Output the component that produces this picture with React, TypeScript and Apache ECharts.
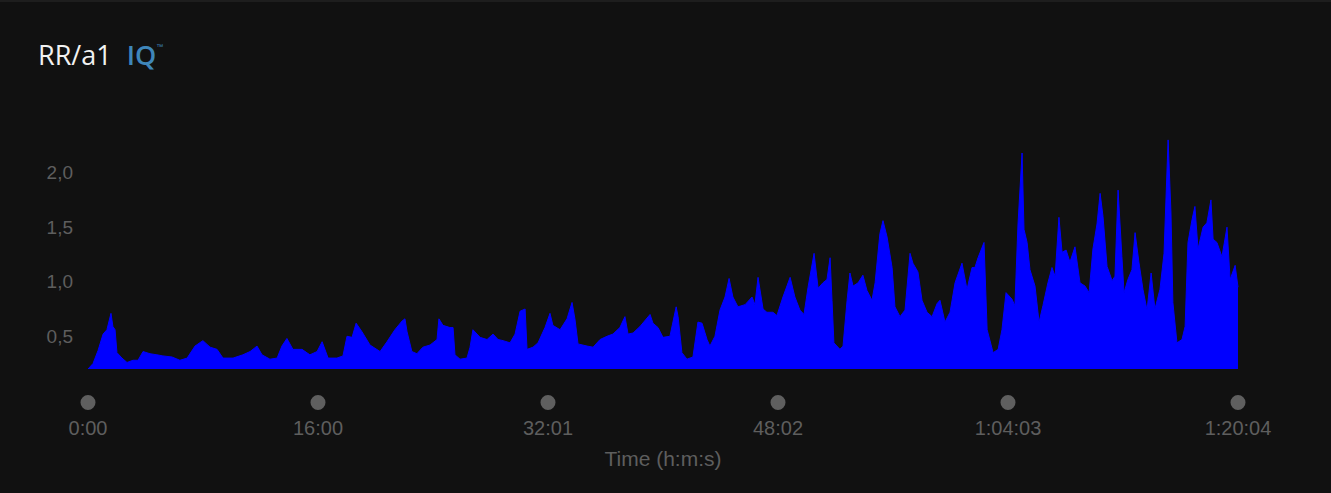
import { useEffect, useRef } from "react";
import * as echarts from "echarts";

// Elapsed time in seconds
const timeSec = [
  0, 21, 42, 63, 79, 96, 104, 113, 121, 142, 163, 188, 209, 230, 259, 288, 313, 351, 384, 414,
  447, 480, 510, 539, 564, 606, 647, 677, 706, 727, 760, 790, 810, 831, 856, 894, 927, 957, 978, 1003,
  1040, 1065, 1082, 1103, 1120, 1145, 1178, 1220, 1249, 1282, 1312, 1324, 1333, 1353, 1374, 1399, 1429, 1458, 1466, 1483,
  1512, 1525, 1533, 1554, 1583, 1596, 1608, 1638, 1667, 1692, 1713, 1734, 1763, 1784, 1805, 1826, 1834, 1859, 1880, 1909,
  1930, 1942, 1972, 2001, 2022, 2034, 2047, 2085, 2110, 2139, 2168, 2193, 2222, 2243, 2256, 2277, 2306, 2348, 2360, 2381,
  2402, 2431, 2457, 2465, 2481, 2502, 2527, 2548, 2565, 2586, 2598, 2619, 2640, 2661, 2678, 2694, 2715, 2745, 2774, 2786,
  2799, 2820, 2836, 2861, 2878, 2903, 2933, 2953, 2974, 2991, 3008, 3033, 3050, 3070, 3087, 3100, 3108, 3116, 3141, 3154,
  3171, 3183, 3196, 3217, 3237, 3254, 3275, 3288, 3308, 3321, 3338, 3359, 3371, 3392, 3413, 3434, 3446, 3467, 3484, 3505,
  3526, 3547, 3559, 3580, 3601, 3622, 3651, 3672, 3693, 3705, 3718, 3743, 3756, 3781, 3802, 3818, 3835, 3860, 3872, 3885,
  3902, 3910, 3923, 3935, 3956, 3973, 3989, 4010, 4027, 4040, 4056, 4069, 4086, 4102, 4123, 4144, 4165, 4182, 4198, 4215,
  4228, 4240, 4257, 4278, 4290, 4303, 4319, 4328, 4344, 4361, 4374, 4390, 4407, 4424, 4441, 4457, 4478, 4495, 4512, 4524,
  4532, 4549, 4570, 4583, 4595, 4612, 4624, 4637, 4658, 4674, 4691, 4700, 4716, 4737, 4758, 4771, 4792, 4804,
];

// RR/a1 values
const rrA1 = [
  0.2, 0.25, 0.37, 0.52, 0.56, 0.71, 0.59, 0.56, 0.35, 0.3, 0.26, 0.28, 0.28, 0.36, 0.34, 0.33, 0.32, 0.31, 0.28, 0.3,
  0.41, 0.46, 0.4, 0.38, 0.3, 0.3, 0.33, 0.36, 0.41, 0.33, 0.29, 0.3, 0.41, 0.48, 0.38, 0.38, 0.33, 0.36, 0.45, 0.3,
  0.3, 0.32, 0.5, 0.49, 0.62, 0.54, 0.42, 0.36, 0.45, 0.56, 0.64, 0.66, 0.54, 0.36, 0.34, 0.4, 0.42, 0.47, 0.66, 0.6,
  0.58, 0.58, 0.33, 0.29, 0.3, 0.4, 0.56, 0.49, 0.47, 0.52, 0.47, 0.46, 0.44, 0.52, 0.73, 0.75, 0.38, 0.4, 0.44, 0.58,
  0.71, 0.6, 0.56, 0.66, 0.81, 0.66, 0.43, 0.41, 0.4, 0.47, 0.5, 0.52, 0.58, 0.68, 0.52, 0.53, 0.59, 0.7, 0.62, 0.58,
  0.49, 0.5, 0.77, 0.68, 0.35, 0.29, 0.31, 0.63, 0.62, 0.47, 0.41, 0.5, 0.74, 0.86, 1.03, 0.86, 0.77, 0.79, 0.86, 0.79,
  1.04, 0.75, 0.72, 0.72, 0.69, 0.86, 1.04, 0.86, 0.74, 0.7, 0.95, 1.26, 0.94, 0.99, 1.02, 1.22, 0.83, 0.44, 0.38, 0.41,
  0.83, 1.08, 0.96, 0.99, 1.06, 0.92, 0.83, 0.99, 1.44, 1.56, 1.41, 1.13, 0.77, 0.68, 0.74, 1.26, 1.17, 1.09, 0.83, 0.72,
  0.68, 0.8, 0.83, 0.63, 0.72, 0.99, 1.17, 0.93, 1.13, 1.13, 1.22, 1.36, 0.56, 0.35, 0.38, 0.56, 0.9, 0.84, 0.78, 1.53,
  2.18, 1.48, 1.36, 1.11, 0.96, 0.63, 0.78, 0.99, 1.13, 1.05, 1.59, 1.27, 1.29, 1.18, 1.32, 0.99, 0.96, 0.9, 1.3, 1.53,
  1.81, 1.6, 1.14, 1.01, 1.05, 1.84, 1.23, 0.9, 1.02, 1.11, 1.45, 1.18, 0.93, 0.74, 1.08, 0.75, 0.93, 1.26, 2.3, 1.63,
  0.81, 0.44, 0.47, 0.59, 1.36, 1.57, 1.69, 1.3, 1.5, 1.54, 1.75, 1.39, 1.36, 1.23, 1.5, 1.02, 1.15, 0.95,
];

const xTickLabels = ["0:00", "16:00", "32:01", "48:02", "1:04:03", "1:20:04"];
const yTickValues = [0.5, 1.0, 1.5, 2.0];
const yTickLabels = ["0,5", "1,0", "1,5", "2,0"];

const TOTAL_SEC = 4804;

export default function App() {
  const ref = useRef<HTMLDivElement>(null);

  useEffect(() => {
    if (!ref.current) return;
    const chart = echarts.init(ref.current, null, { renderer: "svg" });
    const font = "'Liberation Sans', Arial, Helvetica, sans-serif";
    const titleFont = "'Open Sans', 'Noto Sans', sans-serif";
    const labelColor = "#5e5e5e";

    chart.setOption({
      animation: false,
      backgroundColor: "#111111",
      title: {
        text: "{a|RR/a1}  {b|IQ}{c|™}",
        left: 33,
        top: 34,
        textStyle: {
          fontWeight: "normal",
          rich: {
            a: { fontFamily: titleFont, fontSize: 27, fontWeight: "normal", color: "#f2f2f2" },
            b: { fontFamily: titleFont, fontSize: 27, fontWeight: 600, color: "#3f86ba", padding: [0, 0, 0, 5] },
            c: { fontFamily: font, fontSize: 7, fontWeight: "normal", color: "#3f86ba", padding: [0, 0, 16, 0] },
          },
        },
      },
      grid: { left: 88, right: 93, top: 127, height: 240, containLabel: false },
      xAxis: {
        type: "value",
        min: 0,
        max: TOTAL_SEC,
        interval: TOTAL_SEC / 5,
        axisLine: { show: false },
        axisTick: { show: false },
        splitLine: { show: false },
        name: "Time (h:m:s)",
        nameLocation: "middle",
        nameGap: 79,
        nameTextStyle: { color: labelColor, fontSize: 21, fontFamily: font },
        axisLabel: {
          margin: 26,
          formatter: (_v: number, i: number) => `{dot| }\n{t|${xTickLabels[i] ?? ""}}`,
          rich: {
            dot: { width: 15, height: 15, borderRadius: 8, backgroundColor: "#5f5f5f", lineHeight: 15 },
            t: { color: labelColor, fontSize: 20, fontFamily: font, lineHeight: 36 },
          },
        },
      },
      yAxis: {
        type: "value",
        min: 0.2,
        max: 2.4,
        interval: 0.1,
        axisLine: { show: false },
        axisTick: { show: false },
        splitLine: { show: false },
        axisLabel: {
          margin: 15,
          color: labelColor,
          fontSize: 19,
          fontFamily: font,
          formatter: (v: number) => {
            const k = yTickValues.findIndex((t) => Math.abs(t - v) < 1e-6);
            return k >= 0 ? yTickLabels[k] : "";
          },
        },
      },
      series: [
        {
          type: "line",
          data: timeSec.map((t, i) => [t, rrA1[i]]),
          showSymbol: false,
          smooth: false,
          lineStyle: { color: "#0000ff", width: 1 },
          areaStyle: { color: "#0000ff", opacity: 1 },
        },
      ],
    });

    return () => chart.dispose();
  }, []);

  return (
    <div
      style={{
        position: "fixed",
        left: 0,
        top: 0,
        width: 1331,
        height: 493,
        background: "#111111",
        borderTop: "2px solid #1e1e1e",
        boxSizing: "border-box",
      }}
    >
      <div ref={ref} style={{ width: 1331, height: 491 }} />
    </div>
  );
}
